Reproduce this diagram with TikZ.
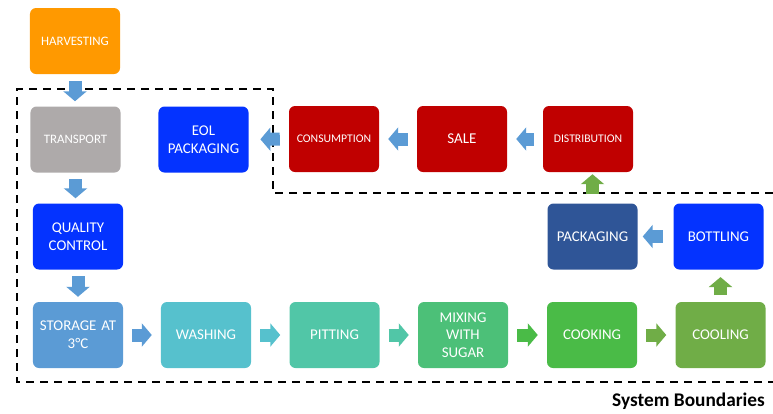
\documentclass[tikz,border=0pt]{standalone}
\usepackage{fontspec}
\setmainfont{Carlito}
\usetikzlibrary{arrows.meta}

\definecolor{harvest}{HTML}{FF9900}
\definecolor{grey}{HTML}{AEAAAA}
\definecolor{vivid}{HTML}{0433FF}
\definecolor{dred}{HTML}{C00000}
\definecolor{navy}{HTML}{2F5597}
\definecolor{steel}{HTML}{5B9BD5}
\definecolor{aqua}{HTML}{56C1CD}
\definecolor{teal}{HTML}{51C6A7}
\definecolor{mint}{HTML}{4CC078}
\definecolor{leaf}{HTML}{4ABB47}
\definecolor{olive}{HTML}{70AD47}

\tikzset{
  box/.style={rounded corners=0.18cm, minimum width=2.7cm, minimum height=1.98cm,
    text width=2.5cm, align=center, inner sep=0pt, text=white,
    font=\fontsize{12.7}{15}\selectfont},
  flow/.style={line width=0.39cm, -{Triangle[length=0.3cm,width=0.69cm]},
    shorten <=0.27cm, shorten >=0.27cm},
  flowv/.style={flow, shorten <=0.2cm, shorten >=0.15cm},
  bound/.style={line width=0.075cm, dash pattern=on 0.24cm off 0.18cm},
}

\begin{document}
\begin{tikzpicture}[x=0.03cm,y=-0.03cm]
\useasboundingbox (0,0) rectangle (773,413);

\node[box, fill=harvest, font=\fontsize{11}{13}\selectfont] (ha) at (75,41) {HARVESTING};
\node[box, fill=grey, font=\fontsize{11}{13}\selectfont] (tr) at (75.5,139.5) {TRANSPORT};
\node[box, fill=vivid] (eol) at (203.5,139.5) {EOL\\PACKAGING};
\node[box, fill=dred, font=\fontsize{10}{12}\selectfont] (con) at (334,139) {CONSUMPTION};
\node[box, fill=dred, font=\fontsize{12.8}{15}\selectfont] (sal) at (462,139) {SALE};
\node[box, fill=dred, font=\fontsize{10}{12}\selectfont] (dis) at (588,139) {DISTRIBUTION};
\node[box, fill=vivid] (qc) at (78,236.5) {QUALITY\\CONTROL};
\node[box, fill=navy] (pk) at (592.5,236.5) {PACKAGING};
\node[box, fill=vivid] (bo) at (718.5,236.5) {BOTTLING};
\node[box, fill=steel] (st) at (78,335) {STORAGE AT\\3°C};
\node[box, fill=aqua] (wa) at (206,335) {WASHING};
\node[box, fill=teal] (pi) at (334.5,335) {PITTING};
\node[box, fill=mint] (mx) at (463,335) {MIXING\\WITH\\SUGAR};
\node[box, fill=leaf] (ck) at (592,335) {COOKING};
\node[box, fill=olive] (co) at (720.5,335) {COOLING};

\draw[bound] (773,193)--(273,193)--(273,89)--(17,89)--(17,382)--(773,382);

\draw[flowv, steel] (ha.south)--(ha.south |- tr.north);
\draw[flowv, steel] (tr.south)--(tr.south |- qc.north);
\draw[flowv, steel] (qc.south)--(qc.south |- st.north);
\foreach \a/\b/\c in {st/wa/steel, wa/pi/aqua, pi/mx/teal, mx/ck/leaf, ck/co/olive, dis/sal/steel, sal/con/steel}
{
   \draw[flow, \c] (\a)--(\b);
}
\draw[flow, steel, shorten >=0.35cm] (con)--(eol);
\draw[flow, steel, shorten <=0.32cm, shorten >=0.15cm] (bo)--(pk);
\draw[flowv, olive, shorten >=0.22cm] (co.north)--(co.north |- bo.south);
\draw[flowv, olive, shorten <=0.27cm, shorten >=0.06cm] (pk.north)--(pk.north |- dis.south);

\node[anchor=base east, font=\bfseries\fontsize{16.5}{20}\selectfont] (sysb) at (769,406.5) {System Boundaries};
\end{tikzpicture}
\end{document}
